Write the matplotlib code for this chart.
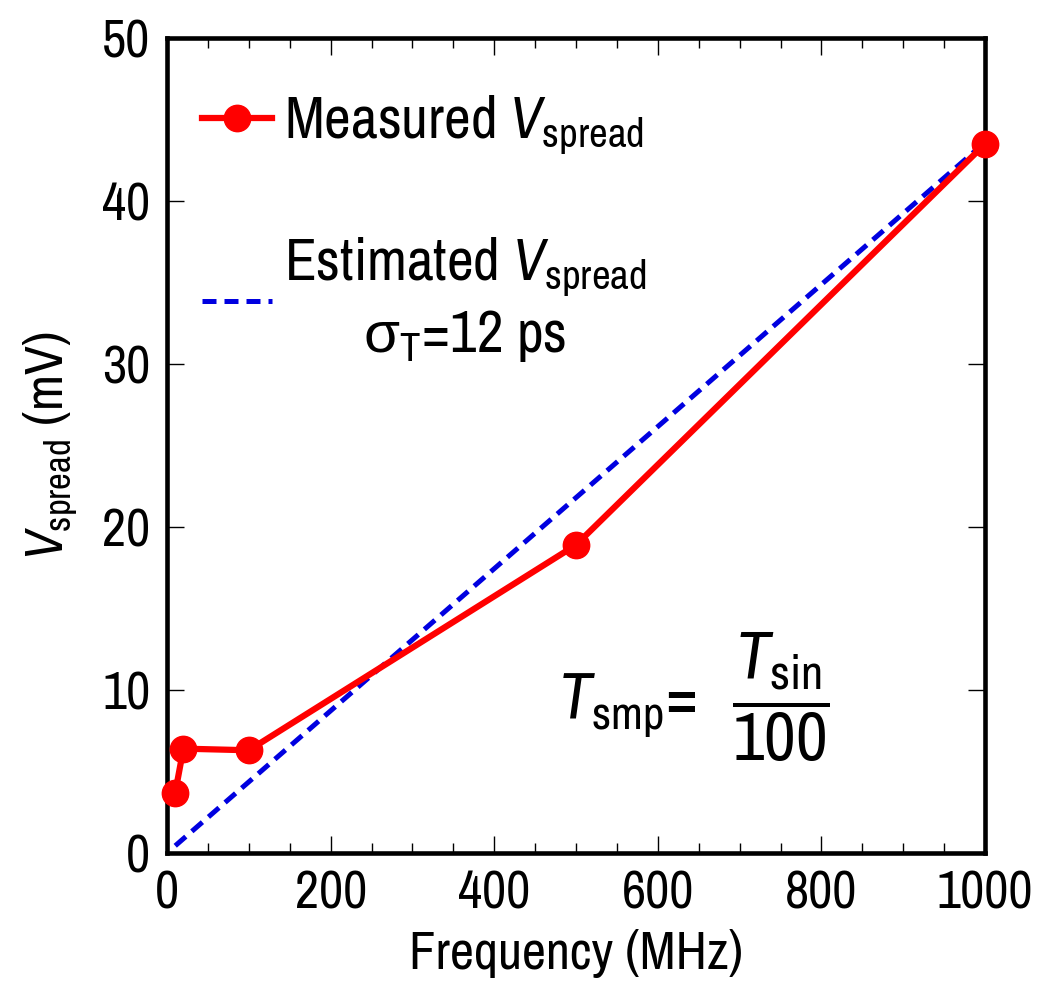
import numpy as np
import matplotlib
matplotlib.use("Agg")
import matplotlib.pyplot as plt
from matplotlib.ticker import MultipleLocator

# measured spread vs. sine frequency
freq = [10, 20, 100, 500, 1000]
v_meas = [3.7, 6.4, 6.3, 18.9, 43.5]

# estimate for sigma_T = 12 ps (linear in f)
freq_est = [10, 1000]
v_est = [0.44, 43.6]

xticks = [0, 200, 400, 600, 800, 1000]
yticks = [0, 10, 20, 30, 40, 50]

fn = "Archivo Narrow"
plt.rcParams["font.family"] = [fn, "Liberation Sans", "DejaVu Sans"]
plt.rcParams["mathtext.fontset"] = "custom"
plt.rcParams["mathtext.rm"] = fn
plt.rcParams["mathtext.it"] = fn + ":italic"
plt.rcParams["mathtext.bf"] = fn + ":bold"
plt.rcParams["mathtext.sf"] = "Liberation Sans"

fig = plt.figure(figsize=(10.46, 10.01), dpi=100)
ax = fig.add_axes([0.1597, 0.1479, 0.9417 - 0.1597, 0.962 - 0.1479])

ax.plot(freq_est, v_est, color="#0000e0", lw=3.6, dashes=(2.8, 1.6),
        label="Estimated $V_{\\rm spread}$\n$\\mathsf{\\sigma}_{\\rm T}$=12 ps",
        zorder=2)
ax.plot(freq, v_meas, color="#ff0000", lw=4.5, marker="o", ms=19,
        label="Measured $V_{\\rm spread}$", zorder=3, clip_on=False)

ax.set_xlim(0, 1000)
ax.set_ylim(0, 50)
ax.set_xticks(xticks)
ax.set_yticks(yticks)
ax.xaxis.set_minor_locator(MultipleLocator(50))
ax.tick_params(which="both", direction="in", top=True, right=True,
               width=1, labelsize=38, pad=12)
ax.tick_params(which="major", length=12)
ax.tick_params(which="minor", length=7)
for s in ax.spines.values():
    s.set_linewidth(3.3)

ax.set_xlabel("Frequency (MHz)", fontsize=38, labelpad=8)
ax.set_ylabel("$V_{\\rm spread}$ (mV)", fontsize=38, labelpad=16)

h, l = ax.get_legend_handles_labels()
leg = ax.legend(h[::-1], l[::-1], loc="upper left", frameon=False,
                fontsize=42, handlelength=1.2, handletextpad=0.2,
                labelspacing=1.35, borderaxespad=0.2,
                bbox_to_anchor=(0.0, 0.975))
for t in leg.get_texts():
    t.set_multialignment("center")

# sampling period note
ax.text(478, 8.16, r"$T_{\rm smp}$=", fontsize=48, ha="left", va="baseline")
ax.text(750, 9.6, r"$\dfrac{T_{\rm sin}}{100}$", fontsize=50,
        ha="center", va="center")

fig.savefig("out.png", dpi=100)
